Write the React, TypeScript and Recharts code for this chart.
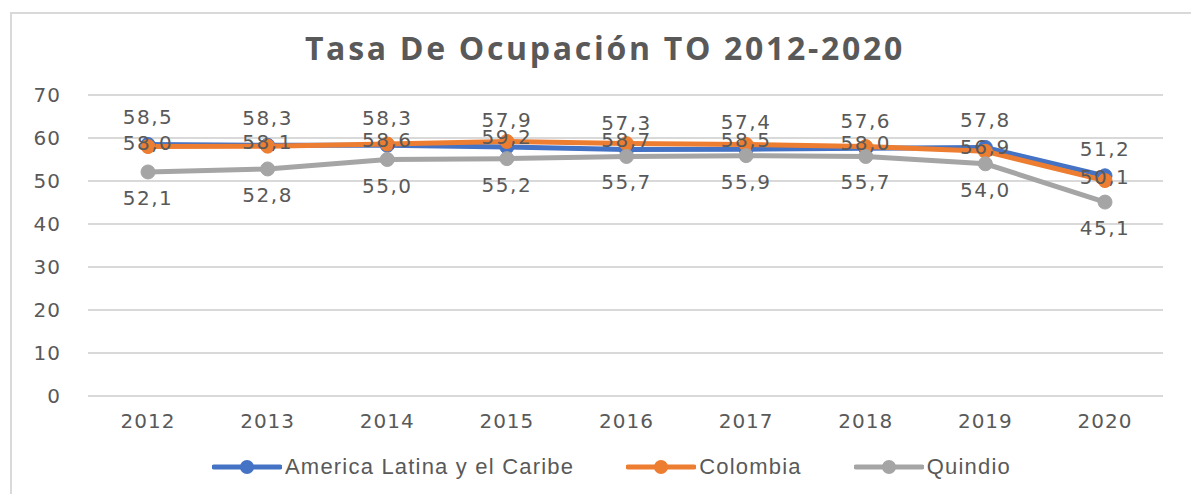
import React from 'react';
import { LineChart, Line, XAxis, YAxis, CartesianGrid, Legend, LabelList } from 'recharts';

const years = ['2012', '2013', '2014', '2015', '2016', '2017', '2018', '2019', '2020'];
const americaLatina = [58.5, 58.3, 58.3, 57.9, 57.3, 57.4, 57.6, 57.8, 51.2];
const colombia = [58.0, 58.1, 58.6, 59.2, 58.7, 58.5, 58.0, 56.9, 50.1];
const quindio = [52.1, 52.8, 55.0, 55.2, 55.7, 55.9, 55.7, 54.0, 45.1];
const yTicks = [0, 10, 20, 30, 40, 50, 60, 70];

const series = [
  { key: 'america', name: 'America Latina y el Caribe', color: '#4472C4', labelDy: -27 },
  { key: 'colombia', name: 'Colombia', color: '#ED7D31', labelDy: -4 },
  { key: 'quindio', name: 'Quindio', color: '#A5A5A5', labelDy: 26 },
];

const data = years.map((year, i) => ({
  year,
  america: americaLatina[i],
  colombia: colombia[i],
  quindio: quindio[i],
}));

const fmt = (v: number) => v.toFixed(1).replace('.', ',');
const FONT = '"DejaVu Sans", sans-serif';

const makeLabel = (dy: number) => (props: any) => {
  const { x, y, value } = props;
  return (
    <text
      x={x}
      y={y + dy}
      textAnchor="middle"
      dominantBaseline="central"
      fill="#595959"
      fontSize={20}
      fontFamily={FONT}
      letterSpacing={1.5}
    >
      {fmt(value)}
    </text>
  );
};

const LegendContent = () => (
  <div style={{ display: 'flex', justifyContent: 'center', alignItems: 'center', fontFamily: '"Liberation Sans", sans-serif', fontSize: 22, letterSpacing: 1.2, color: '#595959', height: 30, paddingLeft: 60 }}>
    {series.map((s, i) => (
      <div key={s.key} style={{ display: 'flex', alignItems: 'center', marginLeft: i === 0 ? 0 : 52 }}>
        <svg width={70} height={16}>
          <line x1={2} y1={8} x2={68} y2={8} stroke={s.color} strokeWidth={5} strokeLinecap="round" />
          <circle cx={35} cy={8} r={7} fill={s.color} />
        </svg>
        <span style={{ marginLeft: 3 }}>{s.name}</span>
      </div>
    ))}
  </div>
);

export default function App() {
  return (
    <div style={{ position: 'absolute', left: 0, top: 0, width: 1191, height: 494, background: '#fff', overflow: 'hidden' }}>
      <div style={{ position: 'absolute', left: 10, top: 12, width: 1300, height: 600, border: '2px solid #d9d9d9' }} />
      <div style={{ position: 'absolute', left: 0, top: 26, width: 1210, textAlign: 'center', fontFamily: '"Open Sans", sans-serif', fontWeight: 700, fontSize: 32, letterSpacing: 2.7, color: '#595959' }}>
        Tasa De Ocupación TO 2012-2020
      </div>
      <LineChart
        width={1191}
        height={494}
        data={data}
        margin={{ top: 95, right: 28, bottom: 12, left: 0 }}
        style={{ position: 'absolute', left: 0, top: 0 }}
      >
        <CartesianGrid vertical={false} stroke="#d9d9d9" strokeWidth={2} />
        <XAxis
          dataKey="year"
          axisLine={false}
          tickLine={false}
          height={56}
          tickMargin={12}
          padding={{ left: 60, right: 58 }}
          tick={{ fill: '#595959', fontSize: 20, fontFamily: FONT, letterSpacing: 1 }}
        />
        <YAxis
          domain={[0, 70]}
          ticks={yTicks}
          width={88}
          axisLine={false}
          tickLine={false}
          tickMargin={21}
          tick={{ fill: '#595959', fontSize: 20, fontFamily: FONT, letterSpacing: 1 }}
        />
        <Legend verticalAlign="bottom" height={30} content={<LegendContent />} />
        {series.map((s) => (
          <Line
            key={s.key}
            dataKey={s.key}
            name={s.name}
            stroke={s.color}
            strokeWidth={5}
            dot={{ r: 7, fill: s.color, stroke: s.color, strokeWidth: 1 }}
            isAnimationActive={false}
          >
            <LabelList dataKey={s.key} content={makeLabel(s.labelDy)} />
          </Line>
        ))}
      </LineChart>
    </div>
  );
}
